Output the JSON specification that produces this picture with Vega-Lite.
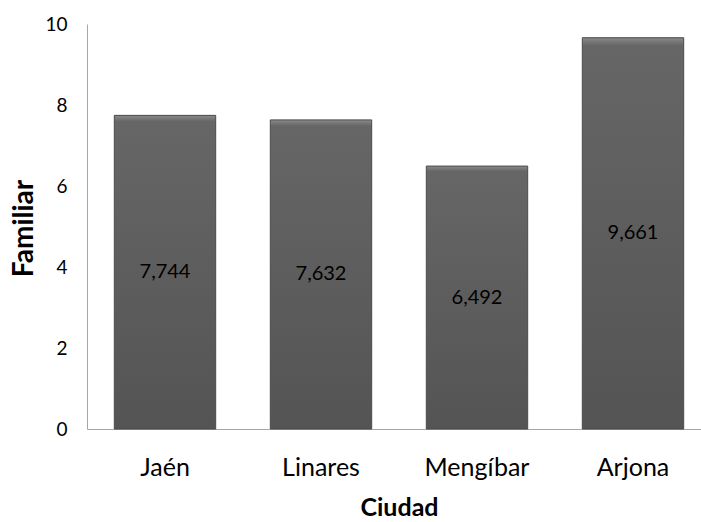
{
  "$schema": "https://vega.github.io/schema/vega-lite/v6.json",
  "autosize": {"type": "none"},
  "padding": {"left": 87, "top": 24, "right": 0, "bottom": 93},
  "width": 624,
  "height": 405,
  "background": "white",
  "config": {
    "view": {"stroke": null},
    "font": "Lato",
    "locale": {"number": {"decimal": ",", "thousands": ".", "grouping": [3], "currency": ["", " €"]}}
  },
  "data": {
    "values": [
      {"Ciudad": "Jaén", "Familiar": 7.744},
      {"Ciudad": "Linares", "Familiar": 7.632},
      {"Ciudad": "Mengíbar", "Familiar": 6.492},
      {"Ciudad": "Arjona", "Familiar": 9.661}
    ]
  },
  "transform": [{"calculate": "datum.Familiar / 2", "as": "mitad"}],
  "encoding": {
    "x": {
      "field": "Ciudad", "type": "nominal", "sort": null,
      "scale": {"paddingInner": 0.35, "paddingOuter": 0.175},
      "axis": {
        "title": "Ciudad", "labelAngle": 0, "ticks": false, "domainColor": "#a6a6a6",
        "labelFontSize": 25, "labelColor": "#000", "labelPadding": 26,
        "titleFontSize": 25, "titleFontWeight": "bold", "titleColor": "#000",
        "titleX": 312, "titleY": 78, "titleBaseline": "middle", "titleAnchor": "middle"
      }
    },
    "y": {
      "field": "Familiar", "type": "quantitative",
      "scale": {"domain": [0, 10]},
      "axis": {
        "title": "Familiar", "values": [0, 2, 4, 6, 8, 10], "grid": false, "ticks": false,
        "domainColor": "#a6a6a6", "labelFontSize": 19, "labelColor": "#000", "labelPadding": 20,
        "titleFontSize": 28, "titleFontWeight": "bold", "titleColor": "#000",
        "titleX": -63, "titleY": 204, "titleAngle": -90, "titleBaseline": "middle", "titleAlign": "center"
      }
    }
  },
  "layer": [
    {
      "mark": {
        "type": "bar",
        "stroke": "#4a4a4a", "strokeWidth": 1,
        "fill": {
          "x1": 0, "y1": 0, "x2": 0, "y2": 1, "gradient": "linear",
          "stops": [
            {"offset": 0, "color": "#8a8a8a"},
            {"offset": 0.02, "color": "#666666"},
            {"offset": 1, "color": "#545454"}
          ]
        }
      }
    },
    {
      "mark": {"type": "text", "fontSize": 20, "color": "#000", "baseline": "middle"},
      "encoding": {
        "y": {"field": "mitad", "type": "quantitative"},
        "text": {"field": "Familiar", "type": "quantitative", "format": ".3f"}
      }
    }
  ]
}
